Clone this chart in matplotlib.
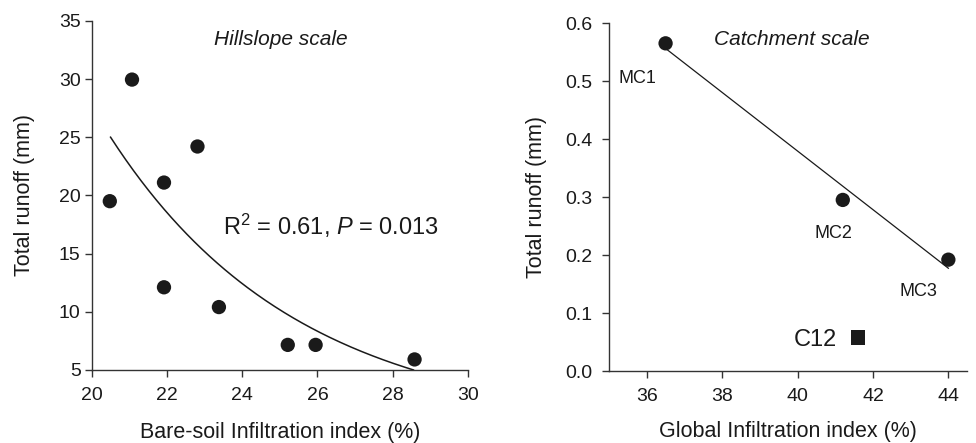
import numpy as np
import matplotlib
matplotlib.use("Agg")
import matplotlib.pyplot as plt

plt.rcParams['font.family'] = ['Liberation Sans', 'DejaVu Sans']
plt.rcParams['mathtext.fontset'] = 'custom'
plt.rcParams['mathtext.rm'] = 'Liberation Sans'
plt.rcParams['mathtext.it'] = 'Liberation Sans:italic'

# Hillslope data
hill_x = [20.48, 21.07, 21.92, 21.92, 22.81, 23.38, 25.21, 25.95, 28.58]
hill_y = [19.5, 29.95, 21.1, 12.1, 24.2, 10.4, 7.15, 7.15, 5.9]
# exponential fit: y = fit_a * exp(fit_b * (x - 20.5))
fit_a = 25.0
fit_b = -0.2
fit_range = [20.5, 28.55]

# Catchment data
catch_labels = ["MC1", "MC2", "MC3"]
catch_x = [36.5, 41.2, 44.0]
catch_y = [0.565, 0.295, 0.192]
c12_x = [41.6]
c12_y = [0.058]

ink = '#1a1a1a'
fig = plt.figure(figsize=(9.76, 4.43), dpi=100)
ax1 = fig.add_axes([0.094, 0.165, 0.3855, 0.788])
ax2 = fig.add_axes([0.624, 0.1625, 0.367, 0.7855])

for ax in (ax1, ax2):
    for s in ('top', 'right'):
        ax.spines[s].set_visible(False)
    for s in ('left', 'bottom'):
        ax.spines[s].set_color('#333333')
        ax.spines[s].set_linewidth(1.0)
    ax.tick_params(direction='out', length=5, width=1, color='#333333',
                   labelsize=14, labelcolor=ink)
    ax.tick_params(axis='x', pad=7)
ax1.tick_params(axis='y', pad=3)
ax2.tick_params(axis='y', pad=7)

# Left panel
xs = np.linspace(fit_range[0], fit_range[1], 200)
ax1.plot(xs, fit_a * np.exp(fit_b * (xs - 20.5)), color=ink, lw=1.1)
ax1.scatter(hill_x, hill_y, s=106, color=ink, zorder=3, edgecolors='none')
ax1.set_xlim(20, 30)
ax1.set_ylim(5, 35)
ax1.set_xticks(range(20, 31, 2))
ax1.set_yticks(range(5, 36, 5))
ax1.set_xlabel('Bare-soil Infiltration index (%)', fontsize=15.5, color=ink, labelpad=13)
ax1.set_ylabel('Total runoff (mm)', fontsize=15.5, color=ink, labelpad=17)
ax1.text(25.03, 33.4, 'Hillslope scale', style='italic', fontsize=15, ha='center', va='center', color=ink)
ax1.text(26.36, 17.4, r'R$^2$ = 0.61, $P$ = 0.013', fontsize=17, ha='center', va='center', color=ink)

# Right panel
coef = np.polyfit(catch_x, catch_y, 1)
lx = np.array([catch_x[0], catch_x[-1]])
ax2.plot(lx, np.polyval(coef, lx), color=ink, lw=0.9)
ax2.scatter(catch_x, catch_y, s=106, color=ink, zorder=3, edgecolors='none')
ax2.scatter(c12_x, c12_y, s=106, marker='s', color=ink, zorder=3, edgecolors='none')
label_pos = [(35.76, 0.505), (40.95, 0.237), (43.2, 0.137)]
for lab, (tx, ty) in zip(catch_labels, label_pos):
    ax2.text(tx, ty, lab, fontsize=13, ha='center', va='center', color=ink)
ax2.text(40.47, 0.053, 'C12', fontsize=17, ha='center', va='center', color=ink)
ax2.set_xlim(35, 44.5)
ax2.set_ylim(0, 0.6)
ax2.set_xticks(range(36, 45, 2))
ax2.set_yticks(np.arange(0, 0.61, 0.1))
ax2.yaxis.set_major_formatter(matplotlib.ticker.FormatStrFormatter('%.1f'))
ax2.set_xlabel('Global Infiltration index (%)', fontsize=15.5, color=ink, labelpad=12)
ax2.set_ylabel('Total runoff (mm)', fontsize=15.5, color=ink, labelpad=13)
ax2.text(39.86, 0.572, 'Catchment scale', style='italic', fontsize=15, ha='center', va='center', color=ink)

fig.savefig('out.png', dpi=100)
